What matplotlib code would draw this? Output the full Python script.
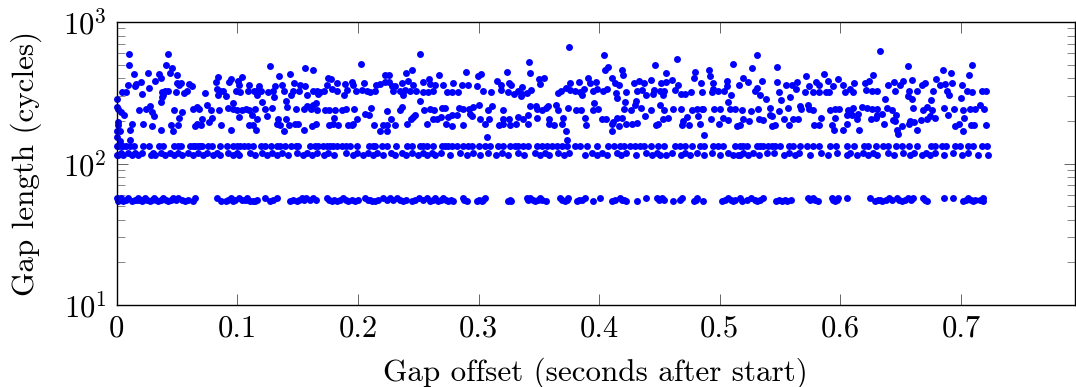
"""
Gap offset vs gap length scatter, read off the reference picture.

Output: out.png
"""

import matplotlib
matplotlib.use("Agg")
import matplotlib.pyplot as plt
from matplotlib.ticker import LogLocator, NullFormatter

plt.rcParams["font.family"] = "cmr10"
plt.rcParams["mathtext.fontset"] = "cm"
plt.rcParams["axes.formatter.use_mathtext"] = True

# (offset in seconds, gap length in cycles)
scatter_start = [
    (.0102,595),(.0426,598),(.0105,500),(.0409,494),(.0459,475),(.0141,431),(.026,433),(.0442,436),
    (.0348,426),(.0503,420),(.037,403),(.0318,385),(.0843,408),(.1271,489),(.1346,418),(.1437,431),
    (.1562,470),(.1631,459),(.2026,506),(.2512,595),(.2449,459),(.2399,433),(.2225,420),(.2261,420),
    (.175,401),(.1777,397),(.1036,410),(.0948,397),(.0934,377),(.0824,377),(.1009,381),(.1014,360),
    (.0498,373),(.0531,373),(.052,356),(.0199,375),(.016,366),(.0152,352),(.0094,356),(.0268,340),
    (.0603,362),(.0625,352),(.0586,325),(.0558,313),(.0492,320),(.0426,324),(.0401,325),(.0379,320),
    (.0387,303),(.0373,295),(.0368,272),(.0207,308),(.0044,320),(.008,320),(.0006,285),(.073,315),
    (.0829,338),(.0837,303),(.0884,327),(.0857,324),(.0907,298),(.099,325),(.1023,320),(.1097,356),
    (.1177,352),(.1092,327),(.1136,327),(.1175,329),(.12,325),(.1166,303),(.1258,320),(.1294,324),
    (.1316,352),(.1368,360),(.1305,295),(.1388,325),(.1473,373),(.1448,303),(.1465,324),(.1512,327),
    (.152,356),(.1562,354),(.1581,303),(.1631,324),(.1658,327),(.1672,308),(.1686,320),(.1719,325),
    (.1741,356),(.1788,338),(.183,324),(.183,373),(.1893,362),(.1888,306),(.1907,333),(.1949,377),
    (.1962,356),(.1982,325),(.2051,371),(.2034,331),(.2073,324),(.2101,320),(.2145,324),(.215,356),
    (.2184,366),(.2225,377),(.2261,377),(.228,352),(.2308,352),(.2289,324),(.2363,368),(.2349,325),
    (.2371,303),(.2391,329),(.2418,381),(.2432,325),(.246,356),(.2482,327),(.2518,275),(.1205,272),
    (.0967,266),(.0746,260),(.1401,276),(.1415,250),(.165,266),(.1603,250),
    (.0182,240),(.024,244),(.0276,255),(.029,233),(.031,216),(.0475,238),(.0539,233),(.063,241),
    (.0663,250),(.0683,244),(.0782,238),(.0851,238),(.0926,246),(.0967,244),(.1001,238),(.1036,238),
    (.107,241),(.1097,238),(.1147,244),(.123,244),(.1249,218),(.1285,246),(.1487,244),(.1553,244),
    (.1581,253),(.1609,244),(.1631,260),(.1664,238),(.1727,240),(.1763,240),(.181,237),(.1868,238),
    (.1902,244),(.1971,243),(.2059,225),(.209,220),(.2106,247),(.2244,235),(.2349,240),(.2369,249),
    (.0221,191),(.0296,185),(.0365,172),(.0451,188),(.047,169),(.0506,188),(.0514,209),(.0647,184),
    (.0663,191),(.0702,188),(.0705,205),(.0766,196),(.0793,209),(.0868,188),(.0945,172),(.1017,214),
    (.11,188),(.1133,188),(.1122,220),(.1155,172),(.1161,205),(.1327,191),(.134,205),(.1354,186),
    (.1404,205),(.1388,169),(.1426,188),(.1479,191),(.1506,191),(.1551,172),(.162,184),(.165,190),
    (.1758,188),(.1797,191),(.1833,188),(.1802,211),(.1915,186),(.1949,186),(.199,205),(.1962,191),
    (.2134,188),(.2186,169),(.2239,169),(.2211,186),(.2244,188),(.2272,207),(.2311,188),(.2405,191),
    (.2438,205),(.2454,212),(.2474,220),
    (.0003,250),(.0014,244),(.0036,231),(.0061,220),(.0008,196),(.0014,186),(.0028,171),(.0003,171),
    (.0006,153),(.0028,145),(.013,191),(.0113,172),(.0108,147),
]

scatter_middle = [
    (.3748,667),(.4043,583),(.4643,545),(.4466,500),(.5108,503),(.3419,522),(.2894,445),(.3239,441),
    (.3424,436),(.2675,424),(.3018,426),(.2999,413),(.4077,482),(.4052,459),(.4187,456),(.4196,422),
    (.4552,438),(.4793,443),(.4909,456),(.492,415),(.4787,401),(.3546,403),(.3502,397),(.259,393),
    (.3905,401),(.4107,405),(.4433,387),(.4602,387),(.2543,377),(.2598,366),(.2639,356),(.2703,356),
    (.2791,373),(.2866,356),(.2916,356),(.2985,352),(.3151,381),(.3187,360),(.3256,373),(.3267,360),
    (.3187,331),(.3358,350),(.351,366),(.3756,373),(.3836,377),(.3925,373),(.3974,377),(.4132,371),
    (.4168,356),(.4289,371),(.4328,381),(.4372,373),(.4516,373),(.4552,377),(.4657,356),(.4842,371),
    (.4947,373),(.5063,381),(.516,356),
    (.2543,320),(.2584,320),(.2626,324),(.2742,320),(.2778,320),(.2833,320),(.3035,325),(.3101,318),
    (.3247,318),(.3294,311),(.333,324),(.3358,311),(.3399,316),(.3435,333),(.3352,298),(.3662,316),
    (.3681,327),(.3723,343),(.3759,329),(.38,325),(.3842,320),(.3855,306),(.3875,335),(.3947,327),
    (.398,335),(.4035,324),(.4068,335),(.414,316),(.4146,292),(.4223,320),(.4312,327),(.4353,333),
    (.4389,306),(.4444,310),(.4455,333),(.4505,324),(.4538,324),(.4527,306),(.4629,329),(.4676,311),
    (.4712,311),(.4759,320),(.4851,320),(.4933,320),(.4947,338),(.4989,324),(.5036,324),(.5063,352),
    (.5097,306),(.5072,272),
    (.2548,240),(.2598,244),(.2631,240),(.2695,246),(.2722,247),(.2841,246),(.2874,241),(.2924,244),
    (.2957,250),(.3001,257),(.3109,255),(.3082,237),(.32,238),(.3427,255),(.3474,255),(.3482,244),
    (.3524,237),(.356,246),(.3579,255),(.3643,257),(.366,240),(.374,246),(.3806,240),(.385,237),
    (.3947,240),(.3994,241),(.396,269),(.4207,241),(.4212,272),(.4262,240),(.4298,257),(.4306,275),
    (.4345,246),(.4428,238),(.4505,257),(.4538,240),(.461,243),(.4677,243),(.4768,240),(.4809,243),
    (.4864,243),(.4851,244),(.4953,241),(.5003,243),(.5085,243),(.5127,244),
    (.262,207),(.2659,205),(.2686,212),(.275,212),(.2778,220),(.2819,220),(.293,224),(.2943,216),
    (.3013,205),(.309,205),(.32,207),(.3256,207),(.333,212),(.3372,207),(.3413,220),(.3488,209),
    (.3585,207),(.3704,209),(.3883,209),(.4021,205),(.4057,207),(.4151,209),(.4187,209),(.4381,218),
    (.4527,207),(.4574,211),(.4726,212),(.4698,201),(.4817,218),(.4928,205),(.5025,211),(.5066,203),
    (.257,191),(.2731,191),(.2783,184),(.2874,188),(.3054,191),(.3167,188),(.3206,191),(.3261,188),
    (.3311,191),(.3408,191),(.3585,191),(.3629,188),(.3692,189),(.3891,188),(.4104,191),(.4118,196),
    (.4168,184),(.4223,191),(.427,191),(.4317,194),(.4472,188),(.4491,190),(.4685,188),(.4748,188),
    (.4837,191),(.4994,191),(.5141,184),
    (.4107,169),(.3726,169),(.3731,147),(.3068,153),(.4867,160),
]

scatter_end = [
    (.5307,586),(.633,620),(.5271,475),(.5473,477),(.6562,491),(.709,497),(.6855,459),(.6916,436),
    (.7071,424),(.5866,431),(.5716,415),(.6275,420),(.5197,403),(.5984,393),(.6791,395),(.5349,381),
    (.5235,377),(.5479,377),(.5639,377),(.5548,356),(.5597,356),(.5631,338),(.5799,377),(.5744,352),
    (.5824,356),(.5899,381),(.6026,360),(.6114,371),(.6241,381),(.6205,373),(.6214,333),(.6399,356),
    (.6446,377),(.6523,381),(.6496,356),(.6592,387),(.6675,356),(.6703,373),(.6869,366),(.6827,356),
    (.6927,373),(.7013,356),(.5293,324),(.5307,342),(.5335,306),(.5385,287),(.5492,320),(.5506,279),
    (.5584,293),(.5708,320),(.5772,320),(.5824,320),(.5879,320),(.591,320),(.5943,352),(.604,320),
    (.6081,338),(.6103,320),(.6261,325),(.6302,327),(.6451,325),(.6573,324),(.6634,324),(.6565,300),
    (.6598,284),(.6772,325),(.6888,325),(.6905,306),(.675,279),(.7004,290),(.7049,324),(.7095,320),
    (.7178,327),(.7209,325),(.6371,285),
    (.5183,240),(.5257,236),(.5318,243),(.5418,246),(.549,236),(.5564,245),(.5667,255),(.5672,241),
    (.573,257),(.5744,241),(.5772,238),(.5915,240),(.5957,243),(.599,243),(.6103,247),(.6067,237),
    (.6183,249),(.6219,246),(.6261,244),(.6302,241),(.6385,246),(.6427,240),(.6606,246),(.6684,237),
    (.6717,249),(.6758,238),(.6861,247),(.6943,241),(.7021,240),(.7076,243),(.7118,244),(.7159,257),
    (.7192,243),
    (.5197,205),(.5246,201),(.5329,207),(.5357,202),(.5418,220),(.5432,216),(.5534,205),(.5606,207),
    (.5653,206),(.5841,211),(.5957,209),(.6053,220),(.6081,231),(.6095,220),(.615,224),(.6136,205),
    (.6255,205),(.6297,209),(.6344,224),(.6302,220),(.6463,220),(.6435,203),(.6457,200),(.6579,201),
    (.6612,198),(.667,202),(.6722,207),(.6745,216),(.6786,209),(.6897,220),(.7026,209),
    (.5169,188),(.5437,184),(.5456,188),(.5575,188),(.5785,188),(.5824,188),(.5929,188),(.5948,172),
    (.6026,172),(.6059,189),(.6158,172),(.636,191),(.6474,172),(.6479,161),(.651,185),(.657,191),
    (.6637,172),(.6952,185),(.6988,191),(.7021,169),(.7085,188),(.711,188),(.721,188),
]

# gaps that sit on the flat bands
band_134 = [
    0,.0014,.0033,.0055,.0077,.0111,.0146,.0221,.0268,.0354,.0387,.0475,.0511,.0531,.0608,.063,.065,.0672,
    .0691,.071,.076,.0788,.0857,.0912,.0967,.0995,.1023,.1056,.1092,.1128,.1194,.123,.1277,.1327,.1354,
    .1396,.1443,.1487,.1506,.1603,.1645,.1672,.1708,.1741,.1769,.1797,.183,.1866,.1902,.1935,.199,.2095,
    .2128,.2142,.2197,.2239,.2313,.2405,.2446,.2515,.2543,.257,.2626,.2695,.2722,.275,.2778,.2819,.2874,
    .2916,.2943,.3007,.3054,.3095,.3165,.3206,.3261,.3303,.333,.3372,.3413,.3482,.3524,.3565,.3607,.3648,
    .369,.3731,.38,.3842,.3897,.398,.4077,.4124,.4173,.4207,.4256,.4298,.4339,.4372,.4428,.4491,.4541,
    .463,.4671,.4712,.4768,.4837,.487,.4947,.4989,.503,.5127,.5169,.5191,.5224,.5307,.5335,.5357,.5404,
    .5432,.5459,.5501,.5578,.5611,.5667,.5722,.5777,.5827,.5915,.5965,.6059,.6114,.6197,.6233,.6297,.6358,
    .6399,.6463,.651,.657,.664,.675,.6786,.6841,.6877,.6952,.6993,.7062,.7098,.7173,.7214,
]
band_118 = [
    .0033,.0097,.0152,.0207,.0304,.0368,.0442,.0511,.0594,.0677,.0752,.0829,.0926,.0995,.1106,.1202,.1285,
    .1368,.1493,.1581,.1658,.1755,.1902,.199,.2087,.2156,.2272,.2363,.2446,.2543,.2612,.2686,.2847,.2952,
    .3082,.3192,.333,.3469,.3551,.3662,.3753,.3938,.4021,.4151,.4223,.4389,.4477,.4602,.4712,.4809,.4933,
    .5072,.5197,.5274,.539,.5451,.5578,.5661,.5841,.5971,.6081,.6192,.6275,.6399,.6523,.6612,.6711,.6786,
    .6938,.7062,
]
band_115 = [
    0,.0014,.0055,.0124,.018,.0282,.0318,.0401,.0475,.0539,.0636,.0713,.0802,.0857,.0967,.1017,.1147,.1244,
    .1327,.1423,.1548,.1617,.1719,.1805,.1962,.2045,.2123,.2211,.2308,.2399,.2501,.2576,.2639,.2764,.2902,
    .3013,.3145,.3247,.3377,.351,.3587,.3709,.3883,.398,.4063,.4182,.4306,.4436,.4505,.4555,.4677,.4754,
    .487,.5003,.5108,.5155,.5169,.5238,.5329,.5537,.5625,.575,.5899,.6053,.6142,.6233,.6308,.6446,.6579,
    .6675,.6745,.6863,.7007,.7145,.7225,
]
band_57 = [
    0,.0033,.0097,.018,.0235,.031,.0387,.047,.0511,.065,.0829,.0945,.1017,.1078,.123,.1327,.1534,.157,
    .1631,.1741,.188,.2059,.2211,.2266,.2322,.251,.257,.2639,.2708,.2869,.3054,.3399,.3427,.351,.3676,
    .3745,.3883,.4008,.4173,.4386,.4483,.4519,.4685,.4809,.5072,.5169,.5257,.5357,.5736,.5772,.5929,.5984,
    .6053,.6247,.6404,.6468,.6565,.6606,.6684,.6861,.6938,.7062,.7181,
]
band_54 = [
    .0014,.0055,.0124,.0207,.0276,.0345,.0428,.0567,.063,.0862,.0907,.0967,.1106,.1128,.1147,.1271,.1437,
    .1493,.1783,.1824,.1921,.1976,.2114,.2142,.2377,.2446,.2598,.2667,.275,.2791,.2902,.2985,.3026,.3247,
    .3267,.3469,.356,.3717,.3814,.3952,.411,.4223,.4312,.4616,.4787,.4864,.5016,.5113,.5183,.5313,.5468,
    .5514,.5561,.5813,.5957,.6288,.6344,.651,.6722,.7021,.7104,.7181,
]
band_55 = [
    .0076,.0152,.0166,.0193,.0221,.0249,.029,.0325,.0366,.0408,.0449,.049,.0539,.0595,.0925,.0985,.104,.106,
    .109,.1165,.13,.1465,.151,.155,.16,.165,.176,.18,.185,.19,.195,.2,.208,.21,.217,.224,.229,.235,.24,.247,
    .254,.262,.269,.273,.277,.288,.3,.304,.326,.341,.345,.349,.353,.369,.373,.3835,.386,.413,.419,.4205,.45,
    .454,.467,.48,.504,.509,.513,.523,.529,.5335,.549,.554,.559,.575,.579,.594,.597,.631,.633,.638,.643,.649,
    .654,.659,.67,.704,.708,.712,.716,
]

x_ticks = [0, 0.1, 0.2, 0.3, 0.4, 0.5, 0.6, 0.7]
x_tick_labels = ["0", "0.1", "0.2", "0.3", "0.4", "0.5", "0.6", "0.7"]
y_ticks = [10, 100, 1000]
y_tick_labels = ["$10^{1}$", "$10^{2}$", "$10^{3}$"]

offsets = []
lengths = []
for part in (scatter_start, scatter_middle, scatter_end):
    for off, cyc in part:
        offsets.append(off)
        lengths.append(cyc)
bands = ((band_134, 134), (band_118, 118), (band_115, 115), (band_57, 57), (band_55, 55), (band_54, 54))
for band, cyc in bands:
    offsets.extend(band)
    lengths.extend([cyc] * len(band))

fig = plt.figure(figsize=(10.76, 3.87), dpi=100)
ax = fig.add_axes([116.7 / 1076, 1 - 305 / 387, (1075 - 116.7) / 1076, (305 - 22) / 387])

ax.plot(offsets, lengths, ls="none", marker="o", ms=5.0, mfc="#0000ff", mec="#0000ff", mew=0, clip_on=False)

ax.set_yscale("log")
ax.set_xlim(0, 0.7946)
ax.set_ylim(10, 1000)
ax.set_xticks(x_ticks)
ax.set_xticklabels(x_tick_labels, fontsize=22)
ax.set_yticks(y_ticks)
ax.set_yticklabels(y_tick_labels, fontsize=22)
ax.yaxis.set_minor_locator(LogLocator(base=10, subs=range(2, 10)))
ax.yaxis.set_minor_formatter(NullFormatter())

ax.tick_params(which="major", direction="in", top=True, right=True, length=8,
               width=0.7, color="#666666", pad=7)
ax.tick_params(which="minor", direction="in", left=True, right=True, length=5.5,
               width=0.7, color="#888888")
for side in ax.spines.values():
    side.set_linewidth(1.0)

ax.set_xlabel("Gap offset (seconds after start)", fontsize=22.4, labelpad=11)
ax.set_ylabel("Gap length (cycles)", fontsize=22.4, labelpad=15)

plt.savefig("out.png", dpi=100)
print("Saved: out.png")
